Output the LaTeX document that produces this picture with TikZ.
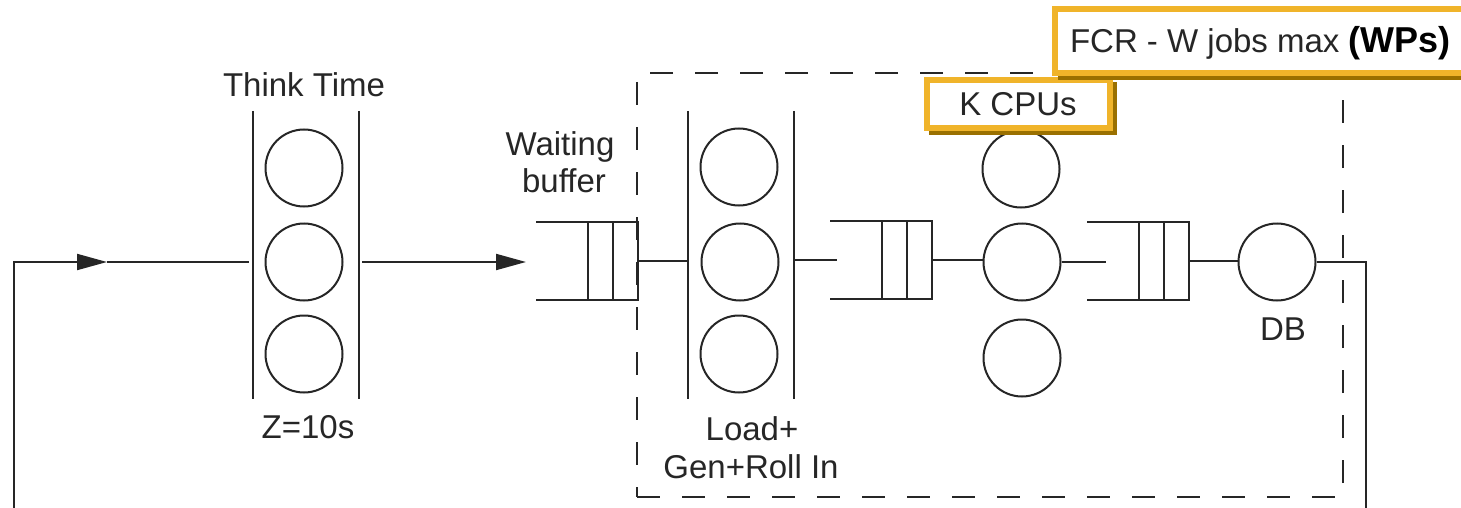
\documentclass[tikz,border=0pt]{standalone}
\usepackage{fontspec}
\setmainfont{Liberation Sans}
\usetikzlibrary{arrows.meta,shadows}
\definecolor{ink}{HTML}{262626}
\definecolor{gold}{HTML}{F0B42A}
\definecolor{golddark}{HTML}{9A7000}
\begin{document}
\begin{tikzpicture}[x=1pt,y=-1pt,
  line width=2pt, draw=ink,
  every node/.style={font=\fontsize{33}{38}\selectfont, text=ink, inner sep=0pt},
  server/.style={circle, draw=ink, minimum size=77pt, line width=2pt},
  lbl/.style={anchor=base},
  qbox/.style={rectangle, minimum width=100pt, minimum height=76pt},
  stn/.style={rectangle, minimum width=104pt, minimum height=286pt},
  goldbox/.style={draw=gold, line width=6pt, fill=white, text height=24pt, text depth=0pt,
    drop shadow={shadow xshift=5pt, shadow yshift=-5pt, fill=golddark, draw=golddark, line width=5pt, opacity=1}},
  arr/.style={-{Triangle[length=30pt,width=16pt]}},
  dashbox/.style={draw=ink, dash pattern=on 23pt off 22pt, line width=2pt}
]
\useasboundingbox (0,0) rectangle (1461,508);
\clip (0,0) rectangle (1461,508);

% dashed region
\node[dashbox, minimum width=706pt, minimum height=424pt] (region) at (990,285) {};

% think time station
\node[stn] (think) at (306,255) {};
\draw (think.north west) -- (think.south west) (think.north east) -- (think.south east);
\node[server] (t1) at (304,168) {};
\node[server] (t2) at (304,262) {};
\node[server] (t3) at (304,354) {};

% load station
\node[stn] (load) at (741,255) {};
\draw (load.north west) -- (load.south west) (load.north east) -- (load.south east);
\node[server] (l1) at (739,167) {};
\node[server] (l2) at (740,262) {};
\node[server] (l3) at (739,354) {};

% queues
\node[qbox] (q1) at (587,261) {};
\node[qbox] (q2) at (881,260) {};
\node[qbox] (q3) at (1138,261) {};
\foreach \q in {q1,q2,q3}{
  \draw (\q.north west) -- (\q.north east) -- (\q.south east) -- (\q.south west);
  \draw ([xshift=-50pt]\q.north east) -- ([xshift=-50pt]\q.south east);
  \draw ([xshift=-25pt]\q.north east) -- ([xshift=-25pt]\q.south east);
}

% CPUs and DB
\node[server] (c1) at (1021,169) {};
\node[server] (c2) at (1022,262) {};
\node[server] (c3) at (1022,358) {};
\node[server] (db) at (1277,262) {};

% connectors
\coordinate (rb) at (14,510);
\coordinate (rt) at (14,262);
\coordinate (a1) at (107,262);
\coordinate (ot) at (1366,262);
\coordinate (ob) at (1366,510);
\draw[arr] (rb) -- (rt) -- (a1);
\draw[shorten >=4pt] (a1) -- (rt -| think.west);
\draw[arr, shorten <=3pt, shorten >=10pt] (rt -| think.east) -- (rt -| q1.west);
\draw (q1.east) -- (q1.east -| load.west);
\draw (load.east |- q2.east) -- ([xshift=7pt]q2.west);
\draw (q2.east) -- (q2.east -| c2.west);
\draw (c2.east) -- ([xshift=19pt]q3.west |- c2.east);
\draw (q3.east) -- (q3.east -| db.west);
\draw (db.east) -- (ot) -- (ob);

% labels
\node[lbl] (ttl) at (304,97) {Think Time};
\node[lbl] (zl) at (308,438) {Z=10s};
\node[lbl] (wl1) at (560,155) {Waiting};
\node[lbl] (wl2) at (564,192) {buffer};
\node[lbl] (ll1) at (752,440) {Load+};
\node[lbl] (ll2) at (751,478) {Gen+Roll In};
\node[lbl] (dbl) at (1283,340) {DB};

% highlighted boxes
\node[goldbox, minimum width=183pt, minimum height=48pt] (kcpu) at (1018,104) {K CPUs};
\node[goldbox, anchor=west, minimum height=64pt, inner xsep=15pt] (fcr) at (1052,41)
  {FCR - W jobs max {\fontsize{36}{40}\selectfont\bfseries\color{black}(WPs)}\hspace{20pt}};
\end{tikzpicture}
\end{document}
